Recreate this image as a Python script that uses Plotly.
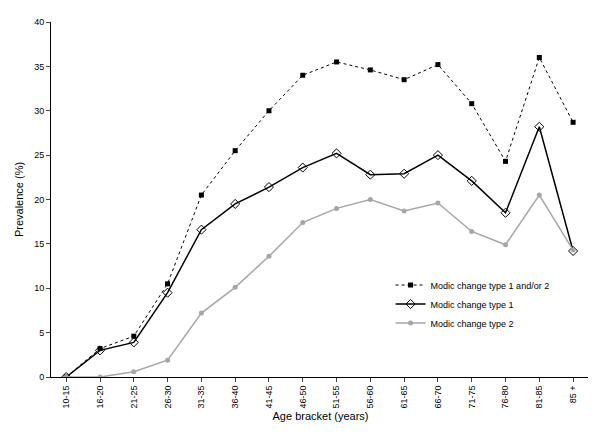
import plotly.graph_objects as go

ages = ["10-15", "16-20", "21-25", "26-30", "31-35", "36-40", "41-45", "46-50",
        "51-55", "56-60", "61-65", "66-70", "71-75", "76-80", "81-85", "85 +"]
type12 = [0, 3.2, 4.6, 10.5, 20.5, 25.5, 30, 34, 35.5, 34.6, 33.5, 35.2, 30.8, 24.3, 36, 28.7]
type1 = [0, 3.0, 3.9, 9.5, 16.6, 19.5, 21.4, 23.6, 25.2, 22.8, 22.9, 25, 22.1, 18.5, 28.2, 14.2]
type2 = [0, 0, 0.6, 1.9, 7.2, 10.1, 13.6, 17.4, 19, 20, 18.7, 19.6, 16.4, 14.9, 20.5, 14.3]

fig = go.Figure()
fig.add_trace(go.Scatter(x=ages, y=type12, name="Modic change type 1 and/or 2",
    mode="lines+markers", line=dict(color="black", width=1, dash="dot"),
    marker=dict(symbol="square", size=5, color="black")))
fig.add_trace(go.Scatter(x=ages, y=type1, name="Modic change type 1",
    mode="lines+markers", line=dict(color="black", width=1.5),
    marker=dict(symbol="diamond-open", size=7, color="black", line=dict(width=1))))
fig.add_trace(go.Scatter(x=ages, y=type2, name="Modic change type 2",
    mode="lines+markers", line=dict(color="#a6a6a6", width=1.5),
    marker=dict(symbol="circle", size=5, color="#a6a6a6")))

fig.update_layout(width=596, height=437, plot_bgcolor="white", paper_bgcolor="white",
    font=dict(family="Liberation Sans, Arial", size=9, color="black"),
    margin=dict(l=43, r=14, t=9, b=68),
    legend=dict(x=0.63, y=0.3, xanchor="left", yanchor="top", bgcolor="rgba(0,0,0,0)",
                font=dict(size=9), tracegroupgap=0))
fig.update_xaxes(title=dict(text="Age bracket (years)", standoff=4), tickangle=-90,
    range=[-0.45, 15.5], showline=True, linecolor="black", ticks="outside", ticklen=4,
    showgrid=False)
fig.update_yaxes(title=dict(text="Prevalence (%)", standoff=8), range=[0, 40], dtick=5,
    showline=True, linecolor="black", ticks="outside", ticklen=4, showgrid=False,
    zeroline=False)
fig.write_html("out.html")
